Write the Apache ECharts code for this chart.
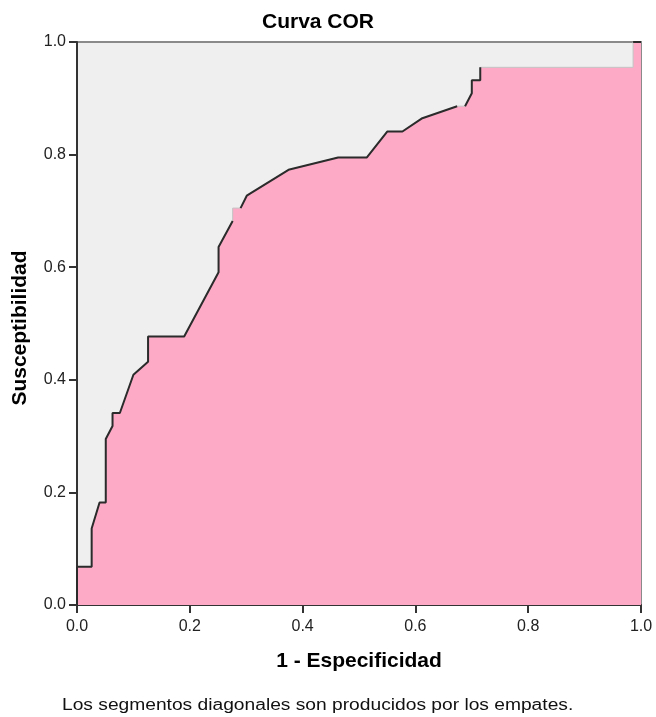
<!DOCTYPE html>
<html>
<head>
<meta charset="utf-8">
<script src="https://cdn.jsdelivr.net/npm/echarts@6/dist/echarts.min.js"></script>
<style>
html,body{margin:0;padding:0;background:#fff;}
#chart{width:656px;height:717px;}
</style>
</head>
<body>
<div id="chart"></div>
<script>
// ROC curve points
const fpr = [0, 0, 0.026, 0.026, 0.040, 0.051, 0.051, 0.063, 0.063, 0.076, 0.100, 0.126, 0.126, 0.190, 0.251, 0.251, 0.276, 0.276, 0.290, 0.301, 0.375, 0.463, 0.514, 0.550, 0.577, 0.611, 0.674, 0.688, 0.700, 0.700, 0.715, 0.715, 0.986, 0.986, 1.0];
const tpr = [0, 0.068, 0.068, 0.136, 0.182, 0.182, 0.295, 0.318, 0.341, 0.341, 0.409, 0.432, 0.477, 0.477, 0.591, 0.636, 0.682, 0.705, 0.705, 0.727, 0.773, 0.795, 0.795, 0.841, 0.841, 0.864, 0.886, 0.886, 0.909, 0.932, 0.932, 0.955, 0.955, 1.0, 1.0];
const xTicks = [0, 0.2, 0.4, 0.6, 0.8, 1.0];
const yTicks = [0, 0.2, 0.4, 0.6, 0.8, 1.0];
const titleText = 'Curva COR';
const xTitle = '1 - Especificidad';
const yTitle = 'Susceptibilidad';
const footnote = 'Los segmentos diagonales son producidos por los empates.';

// segments (start index) drawn in light grey in the original
const lightSegments = [16, 17, 26, 31, 32];

const pts = fpr.map((x, i) => [x, tpr[i]]);
const font = 'Liberation Sans, Arial, sans-serif';

// build dark runs
const darkRuns = [];
let run = null;
for (let i = 0; i < pts.length - 1; i++) {
  if (lightSegments.indexOf(i) >= 0) { if (run) { darkRuns.push(run); run = null; } continue; }
  if (!run) run = [pts[i]];
  run.push(pts[i + 1]);
}
if (run) darkRuns.push(run);

const series = [{
  type: 'line',
  data: pts,
  symbol: 'none',
  lineStyle: { color: '#c4c4c4', width: 1 },
  areaStyle: { color: '#fcaac6', opacity: 1 },
  z: 2,
  silent: true
}];
darkRuns.forEach(r => series.push({
  type: 'line', data: r, symbol: 'none',
  lineStyle: { color: '#2b2b2b', width: 2 }, z: 3, silent: true
}));

const chart = echarts.init(document.getElementById('chart'), null, { renderer: 'canvas' });
chart.setOption({
  animation: false,
  backgroundColor: '#ffffff',
  title: {
    text: titleText,
    left: 257, top: 7,
    textStyle: { fontFamily: font, fontSize: 21, fontWeight: 'bold', color: '#000' }
  },
  grid: {
    left: 77, right: 15, top: 42, bottom: 112,
    show: true, backgroundColor: '#efefef', borderColor: '#8a8a8a', borderWidth: 2
  },
  xAxis: {
    type: 'value', min: xTicks[0], max: xTicks[xTicks.length - 1], interval: 0.2,
    name: xTitle, nameLocation: 'middle', nameGap: 46,
    nameTextStyle: { fontFamily: font, fontSize: 21, fontWeight: 'bold', color: '#000' },
    axisLine: { show: true, onZero: false, lineStyle: { color: '#333', width: 2 } },
    axisTick: { show: true, length: 8, lineStyle: { color: '#333', width: 2 } },
    axisLabel: { margin: 14, fontFamily: font, fontSize: 16, color: '#222', formatter: v => v.toFixed(1) },
    splitLine: { show: false }
  },
  yAxis: {
    type: 'value', min: yTicks[0], max: yTicks[yTicks.length - 1], interval: 0.2,
    name: yTitle, nameLocation: 'middle', nameGap: 46, nameRotate: 90,
    nameTextStyle: { fontFamily: font, fontSize: 21, fontWeight: 'bold', color: '#000', padding: [0, 9, 0, 0] },
    axisLine: { show: true, onZero: false, lineStyle: { color: '#333', width: 2 } },
    axisTick: { show: true, length: 8, lineStyle: { color: '#333', width: 2 } },
    axisLabel: { margin: 11, fontFamily: font, fontSize: 16, color: '#222', formatter: v => v.toFixed(1) },
    splitLine: { show: false }
  },
  graphic: [{
    type: 'text', x: 62, y: 698, scaleX: 1.2,
    style: { text: footnote, font: '16px ' + font, fill: '#111' }
  }],
  series: series
});
</script>
</body>
</html>
